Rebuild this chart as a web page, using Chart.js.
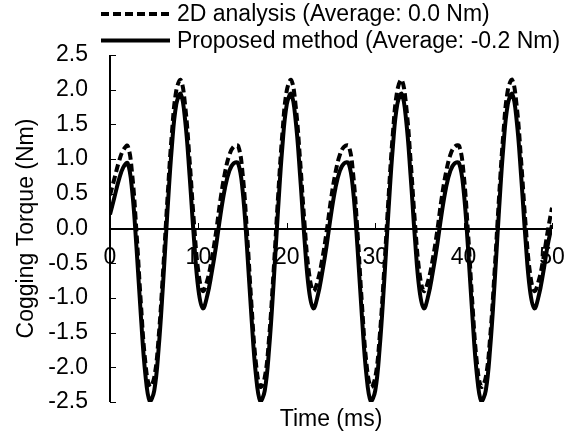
<!DOCTYPE html>
<html>
<head>
<meta charset="utf-8">
<script src="https://cdn.jsdelivr.net/npm/chart.js@4.4.1/dist/chart.umd.min.js"></script>
<style>
  body { margin: 0; background: #fff; }
  #wrap { width: 579px; height: 433px; }
</style>
</head>
<body>
<div id="wrap"><canvas id="myChart" width="579" height="433"></canvas></div>
<script>
// time axis (ms)
const timeMs = [
  0, 0.5, 1, 1.5, 2, 2.5, 3, 3.5, 4, 4.5, 5, 5.5, 6, 6.5, 7, 7.5, 8, 8.5, 9, 9.5,
  10, 10.5, 11, 11.5, 12, 12.5, 13, 13.5, 14, 14.5, 15, 15.5, 16, 16.5, 17, 17.5, 18, 18.5, 19, 19.5,
  20, 20.5, 21, 21.5, 22, 22.5, 23, 23.5, 24, 24.5, 25, 25.5, 26, 26.5, 27, 27.5, 28, 28.5, 29, 29.5,
  30, 30.5, 31, 31.5, 32, 32.5, 33, 33.5, 34, 34.5, 35, 35.5, 36, 36.5, 37, 37.5, 38, 38.5, 39, 39.5,
  40, 40.5, 41, 41.5, 42, 42.5, 43, 43.5, 44, 44.5, 45, 45.5, 46, 46.5, 47, 47.5, 48, 48.5, 49, 49.5,
  50
];

// 2D analysis (dashed)
const torque2D = [
  0.48, 0.72, 0.96, 1.13,
  1.19, 0.79, -0.06, -1.09, -1.93, -2.28, -2.15, -1.57, -0.63, 0.43, 1.37, 1.99, 2.14, 1.77, 0.99, 0.08, -0.63, -0.90, -0.75, -0.45, -0.05, 0.42, 0.80, 1.06, 1.18,
  1.19, 0.79, -0.06, -1.09, -1.93, -2.28, -2.15, -1.57, -0.63, 0.43, 1.37, 1.99, 2.14, 1.77, 0.99, 0.08, -0.63, -0.90, -0.75, -0.45, -0.05, 0.42, 0.80, 1.06, 1.18,
  1.19, 0.79, -0.06, -1.09, -1.93, -2.28, -2.15, -1.57, -0.63, 0.43, 1.37, 1.99, 2.14, 1.77, 0.99, 0.08, -0.63, -0.90, -0.75, -0.45, -0.05, 0.42, 0.80, 1.06, 1.18,
  1.19, 0.79, -0.06, -1.09, -1.93, -2.28, -2.15, -1.57, -0.63, 0.43, 1.37, 1.99, 2.14, 1.77, 0.99, 0.08, -0.63, -0.90, -0.75, -0.45, -0.05, 0.30
];

// proposed method (solid)
const torqueProposed = [
  0.20, 0.45, 0.70, 0.88,
  0.94, 0.55, -0.28, -1.27, -2.10, -2.49, -2.34, -1.73, -0.80, 0.25, 1.18, 1.79, 1.94, 1.56, 0.77, -0.15, -0.88, -1.15, -0.97, -0.64, -0.25, 0.20, 0.58, 0.83, 0.94,
  0.94, 0.55, -0.28, -1.27, -2.10, -2.49, -2.34, -1.73, -0.80, 0.25, 1.18, 1.79, 1.94, 1.56, 0.77, -0.15, -0.88, -1.15, -0.97, -0.64, -0.25, 0.20, 0.58, 0.83, 0.94,
  0.94, 0.55, -0.28, -1.27, -2.10, -2.49, -2.34, -1.73, -0.80, 0.25, 1.18, 1.79, 1.94, 1.56, 0.77, -0.15, -0.88, -1.15, -0.97, -0.64, -0.25, 0.20, 0.58, 0.83, 0.94,
  0.94, 0.55, -0.28, -1.27, -2.10, -2.49, -2.34, -1.73, -0.80, 0.25, 1.18, 1.79, 1.94, 1.56, 0.77, -0.15, -0.88, -1.15, -0.97, -0.64, -0.25, 0.05
];

const seriesNames = ["2D analysis (Average: 0.0 Nm)", "Proposed method (Average: -0.2 Nm)"];

const FONT = "'Liberation Sans', Arial, sans-serif";
Chart.defaults.font.family = FONT;
Chart.defaults.font.size = 23;
Chart.defaults.color = "#000";

function points(values) {
  return timeMs.map((t, i) => ({ x: t, y: values[i] }));
}

// axis lines + inward tick marks, x axis sits on y = 0
const axisLines = {
  id: "axisLines",
  afterDraw(chart) {
    const ctx = chart.ctx;
    const x = chart.scales.x;
    const y = chart.scales.y;
    const area = chart.chartArea;
    const y0 = Math.round(y.getPixelForValue(0));
    ctx.save();
    ctx.strokeStyle = "#000";
    ctx.lineWidth = 2;
    ctx.beginPath();
    ctx.moveTo(area.left, area.top);
    ctx.lineTo(area.left, area.bottom);
    ctx.moveTo(area.left, y0);
    ctx.lineTo(area.right, y0);
    ctx.stroke();
    ctx.lineWidth = 1;
    ctx.beginPath();
    y.ticks.forEach((t) => {
      const py = Math.round(y.getPixelForValue(t.value)) + 0.5;
      ctx.moveTo(area.left, py);
      ctx.lineTo(area.left + 6, py);
    });
    x.ticks.forEach((t) => {
      const px = Math.round(x.getPixelForValue(t.value)) + 0.5;
      ctx.moveTo(px, y0);
      ctx.lineTo(px, y0 - 6);
    });
    ctx.stroke();
    ctx.restore();
  },
};

// legend drawn by hand: stacked lines with long samples
const legendLines = {
  id: "legendLines",
  afterDraw(chart) {
    const ctx = chart.ctx;
    ctx.save();
    ctx.font = "23px " + FONT;
    ctx.fillStyle = "#000";
    ctx.strokeStyle = "#000";
    ctx.lineWidth = 4;
    ctx.textBaseline = "middle";
    chart.data.datasets.forEach((ds, i) => {
      const y = 14 + i * 26.5;
      ctx.setLineDash(ds.borderDash || []);
      ctx.beginPath();
      ctx.moveTo(101, y);
      ctx.lineTo(170, y);
      ctx.stroke();
      ctx.setLineDash([]);
      ctx.fillText(ds.label, 177, y + 1);
    });
    ctx.restore();
  },
};

let ctx = document.getElementById("myChart").getContext("2d");
let myChart = new Chart(ctx, {
  type: "line",
  data: {
    datasets: [
      {
        label: seriesNames[0],
        data: points(torque2D),
        borderColor: "#000",
        borderWidth: 4,
        borderDash: [8, 4],
        pointRadius: 0,
        tension: 0.4,
        fill: false,
        xAxisID: "x",
        yAxisID: "y",
      },
      {
        label: seriesNames[1],
        data: points(torqueProposed),
        borderColor: "#000",
        borderWidth: 4,
        pointRadius: 0,
        tension: 0.4,
        fill: false,
        xAxisID: "x",
        yAxisID: "y",
      },
    ],
  },
  options: {
    responsive: false,
    animation: false,
    devicePixelRatio: 1,
    layout: { padding: { left: 3, right: 27, top: 55, bottom: 0 } },
    plugins: { legend: { display: false }, tooltip: { enabled: false } },
    scales: {
      x: {
        type: "linear",
        position: { y: 0 },
        min: 0,
        max: 50,
        afterFit(scale) {
          scale.height = 0;
          scale.paddingLeft = 0;
          scale.paddingRight = 0;
        },
        ticks: { stepSize: 10, padding: 15.7, maxRotation: 0 },
        grid: { display: false, drawTicks: false },
        border: { display: false },
      },
      xt: {
        type: "linear",
        position: "bottom",
        afterFit(scale) { scale.height = 31; },
        ticks: { display: false },
        grid: { display: false, drawTicks: false },
        border: { display: false },
        title: { display: true, text: "Time (ms)", padding: { top: 3.4, bottom: 0 } },
      },
      y: {
        type: "linear",
        position: "left",
        min: -2.5,
        max: 2.5,
        afterFit(scale) {
          scale.width = 107;
          scale.paddingTop = 0;
          scale.paddingBottom = 0;
        },
        ticks: { stepSize: 0.5, padding: 22, callback: (v) => v.toFixed(1) },
        grid: { display: false, drawTicks: false },
        border: { display: false },
        title: { display: true, text: "Cogging Torque (Nm)", padding: { top: 10.2, bottom: 7.6 } },
      },
    },
  },
  plugins: [axisLines, legendLines],
});
</script>
</body>
</html>
